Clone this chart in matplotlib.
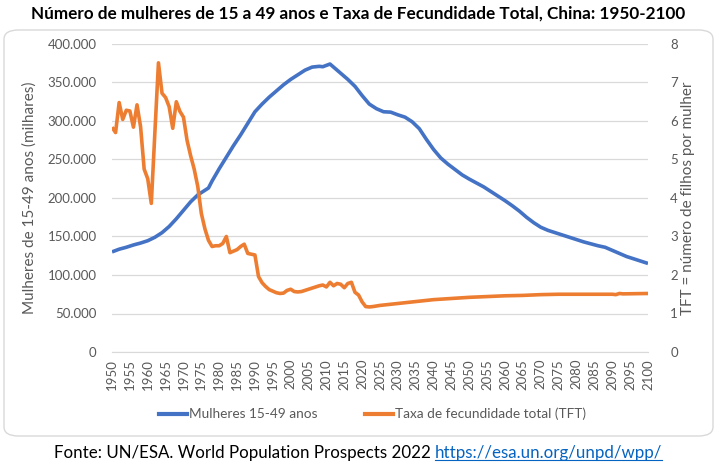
#!/usr/bin/env python3
# -*- coding: utf-8 -*-
"""Mulheres de 15-49 anos e TFT, China 1950-2100 (eixo duplo)."""

import matplotlib
matplotlib.use("Agg")
import matplotlib.pyplot as plt
from matplotlib.patches import FancyBboxPatch
from matplotlib.lines import Line2D

plt.rcParams['font.family'] = ['Lato', 'DejaVu Sans']

# ---- dados ----
ANOS_MULHERES = [1950, 1952, 1954, 1956, 1958, 1960, 1962, 1964, 1966, 1968,
                 1970, 1972, 1974, 1976, 1977, 1978, 1980, 1982, 1984, 1986,
                 1988, 1990, 1992, 1994, 1996, 1998, 2000, 2002, 2004, 2006,
                 2008, 2009, 2011, 2012, 2014, 2016, 2018, 2020, 2022, 2024,
                 2026, 2028, 2030, 2032, 2034, 2036, 2038, 2040, 2042, 2044,
                 2046, 2048, 2050, 2052, 2054, 2056, 2058, 2060, 2062, 2064,
                 2066, 2068, 2070, 2072, 2074, 2076, 2078, 2080, 2082, 2084,
                 2086, 2088, 2090, 2092, 2094, 2096, 2098, 2100]
MULHERES = [130, 133.5, 136, 139, 141.5, 144.5, 149, 155, 163, 173,
            184, 195, 204, 210, 213, 222, 238, 253, 268, 282,
            297, 312, 322, 331, 339, 347, 354, 360, 366, 370,
            371, 370.5, 374, 370, 362, 354, 345, 333, 322, 316,
            312, 311.5, 308, 305, 299, 290, 276, 263, 252, 244,
            237, 230, 224.5, 219.5, 214.5, 208.5, 202.5, 196.5, 190, 183,
            175, 168, 162, 158, 155, 152, 149, 146, 143, 140.5,
            138, 136, 132, 128, 124, 121, 118, 115]

ANOS_TFT = [1950, 1951, 1952, 1953, 1954, 1955, 1956, 1957, 1958, 1959,
            1960, 1961, 1962, 1963, 1964, 1965, 1966, 1967, 1968, 1969,
            1970, 1971, 1972, 1973, 1974, 1975, 1976, 1977, 1978, 1979,
            1980, 1981, 1982, 1983, 1984, 1985, 1986, 1987, 1988, 1989,
            1990, 1991, 1992, 1993, 1994, 1995, 1996, 1997, 1998, 1999,
            2000, 2001, 2002, 2003, 2004, 2005, 2006, 2007, 2008, 2009,
            2010, 2011, 2012, 2013, 2014, 2015, 2016, 2017, 2018, 2019,
            2020, 2021, 2022, 2023, 2025, 2030, 2035, 2040, 2045, 2050,
            2055, 2060, 2065, 2070, 2075, 2080, 2085, 2090, 2091, 2092,
            2093, 2100]
TFT = [5.84, 5.70, 6.48, 6.04, 6.28, 6.26, 5.84, 6.42, 5.85, 4.75,
       4.50, 3.86, 5.70, 7.51, 6.72, 6.61, 6.37, 5.81, 6.50, 6.25,
       6.10, 5.50, 5.10, 4.75, 4.30, 3.60, 3.20, 2.90, 2.74, 2.76,
       2.76, 2.82, 3.00, 2.58, 2.62, 2.66, 2.74, 2.80, 2.56, 2.54,
       2.52, 1.96, 1.80, 1.70, 1.62, 1.58, 1.54, 1.52, 1.53, 1.60,
       1.63, 1.57, 1.56, 1.57, 1.60, 1.63, 1.66, 1.69, 1.72, 1.74,
       1.69, 1.81, 1.72, 1.78, 1.76, 1.67, 1.78, 1.81, 1.55, 1.48,
       1.30, 1.18, 1.17, 1.18, 1.21, 1.26, 1.31, 1.36, 1.39, 1.42,
       1.44, 1.46, 1.47, 1.49, 1.50, 1.50, 1.50, 1.50, 1.49, 1.52,
       1.51, 1.52]

TITULO = "Número de mulheres de 15 a 49 anos e Taxa de Fecundidade Total, China: 1950-2100"
AZUL = "#4472C4"
LARANJA = "#ED7D31"
CINZA = "#595959"
GRADE = "#D9D9D9"


def fmt_milhar(v):
    return f"{int(v):,}".replace(",", ".")


def main():
    fig = plt.figure(figsize=(7.17, 4.66), dpi=100)

    # moldura arredondada da área do gráfico
    moldura = FancyBboxPatch((4 / 717, 30 / 466), 709 / 717, 406 / 466,
                             boxstyle="round,pad=0,rounding_size=0.02",
                             transform=fig.transFigure, facecolor="none",
                             edgecolor=GRADE, linewidth=1.0, zorder=-1)
    fig.patches.append(moldura)

    ax = fig.add_axes([112 / 717, 114 / 466, 536 / 717, 308 / 466])
    ax2 = ax.twinx()

    ax.plot(ANOS_MULHERES, [v * 1000 for v in MULHERES], color=AZUL, lw=2.6,
            solid_capstyle="butt", zorder=3)
    ax2.plot(ANOS_TFT, TFT, color=LARANJA, lw=2.6, solid_capstyle="butt",
             zorder=3)

    ax.set_xlim(1950, 2100)
    ax.set_ylim(0, 400000)
    ax2.set_ylim(0, 8)
    ax.set_yticks(range(0, 400001, 50000))
    ax.set_yticklabels([fmt_milhar(v) for v in range(0, 400001, 50000)])
    ax2.set_yticks(range(0, 9))
    ax.set_xticks(range(1950, 2101, 5))
    ax.set_xticklabels([str(a) for a in range(1950, 2101, 5)], rotation=90)

    ax.grid(axis="y", color=GRADE, lw=0.9)
    ax.set_axisbelow(True)
    for a in (ax, ax2):
        for s in a.spines.values():
            s.set_visible(False)
        a.tick_params(length=0, colors=CINZA, labelsize=9.5)
    ax.spines["bottom"].set_visible(True)
    ax.spines["bottom"].set_color(GRADE)
    ax.tick_params(axis="y", pad=11)
    ax2.tick_params(axis="y", pad=16)
    ax.tick_params(axis="x", pad=5)

    # títulos dos eixos posicionados à mão
    y_meio = 1 - 198 / 466
    fig.text(30 / 717, y_meio, "Mulheres de 15-49 anos (milhares)", color=CINZA,
             fontsize=11, rotation=90, ha="center", va="center")
    fig.text(688 / 717, y_meio, "TFT = número de filhos por mulher", color=CINZA,
             fontsize=11, rotation=90, ha="center", va="center")

    fig.text(0.5, 1 - 14 / 466, TITULO, ha="center", va="center",
             fontsize=12.3, fontweight="bold", color="black")

    handles = [Line2D([], [], color=AZUL, lw=3),
               Line2D([], [], color=LARANJA, lw=3)]
    fig.legend(handles, ["Mulheres 15-49 anos", "Taxa de fecundidade total (TFT)"],
               loc="center", bbox_to_anchor=(0.52, 1 - 414 / 466), ncol=2,
               frameon=False, fontsize=9.8, labelcolor=CINZA, handlelength=2.0,
               handletextpad=0.2, columnspacing=3.5)

    # fonte com link sublinhado
    r = fig.canvas.get_renderer()
    y_fonte = 1 - 453 / 466
    t1 = fig.text(0, y_fonte, "Fonte: UN/ESA. World Population Prospects 2022 ",
                  ha="left", va="center", fontsize=12.2, color="black")
    t2 = fig.text(0, y_fonte, "https://esa.un.org/unpd/wpp/", ha="left",
                  va="center", fontsize=12.2, color="#0563C1")
    w1 = t1.get_window_extent(r).width
    w2 = t2.get_window_extent(r).width
    x0 = 358 - (w1 + w2) / 2
    t1.set_x(x0 / 717)
    t2.set_x((x0 + w1) / 717)
    bb = t2.get_window_extent(r)
    fig.add_artist(Line2D([bb.x0 / 717, bb.x1 / 717],
                          [(bb.y0 + 1) / 466, (bb.y0 + 1) / 466],
                          transform=fig.transFigure, color="#0563C1", lw=0.8))

    fig.savefig("out.png", dpi=100)


if __name__ == "__main__":
    main()
